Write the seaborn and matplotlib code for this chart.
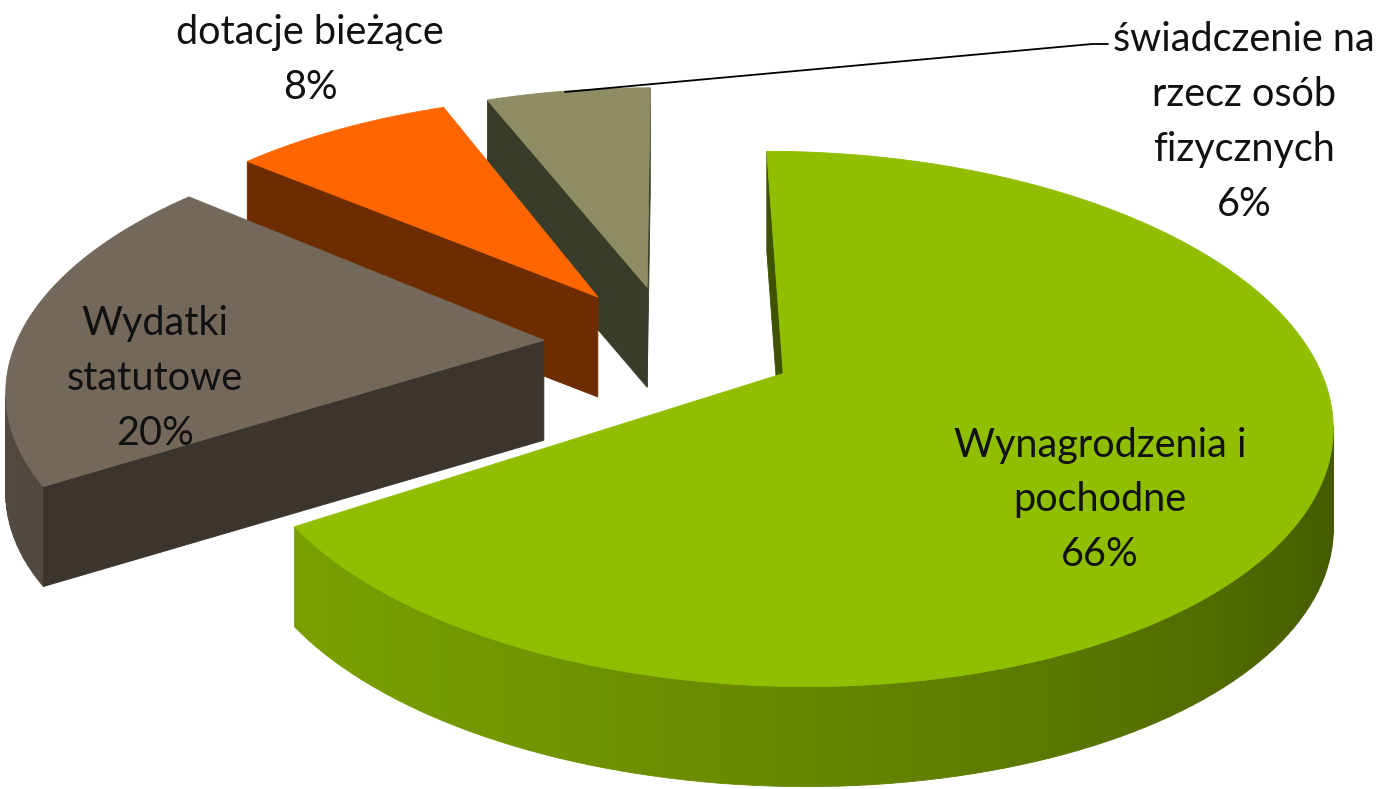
import numpy as np
import seaborn as sns
import matplotlib.pyplot as plt
from matplotlib.patches import Polygon
from matplotlib.colors import to_rgb

labels = ['Wynagrodzenia i\npochodne', 'Wydatki\nstatutowe', 'dotacje bieżące', 'świadczenie na\nrzecz osób\nfizycznych']
values = [66, 20, 8, 6]
top_colors = ['#8fbf00', '#73685a', '#ff6600', '#8e8c62']
# side shading: colour facing the light / colour facing away
side_light = ['#7aa000', '#514840', '#6e2d00', '#3a3c2a']
side_dark = ['#3e5200', '#3c352d', '#6e2d00', '#3a3c2a']
explode = [0.24, 0.24, 0.24, 0.24]
draw_order = [3, 2, 1, 0]   # back to front

sns.set_theme(style='white')
plt.rcParams['font.family'] = ['Lato', 'DejaVu Sans']

W, H = 1385, 789
fig = plt.figure(figsize=(W / 100, H / 100), dpi=100)
ax = fig.add_axes([0, 0, 1, 1])

# let pie work out the slice geometry on the ground plane
wedges, _ = ax.pie(values, explode=explode, startangle=90, counterclock=False)
geo = [(np.array(w.center), w.r, w.theta1, w.theta2) for w in wedges]
for w in wedges:
    w.remove()

# simple pinhole view of the tilted ground plane (pixels)
K = 6.0
SX, SY = 528, 250
CX, CY = 670, 344
depth = 100


def project(X, Y):
    s = K / (K + Y)
    return CX + SX * X * s, CY - SY * Y * s


def visible(p, normal_deg):
    n = np.array([np.cos(np.radians(normal_deg)), np.sin(np.radians(normal_deg))])
    return np.dot(n, np.array([0, -K]) - p) > 0


def shade(i, normal_deg):
    t = 0.5 + 0.5 * np.cos(np.radians(normal_deg - 200))
    a, b = np.array(to_rgb(side_dark[i])), np.array(to_rgb(side_light[i]))
    return tuple(a + t * (b - a))


def add_face(pts, color, z):
    ax.add_patch(Polygon(pts, closed=True, facecolor=color, edgecolor=color,
                         lw=0.6, zorder=z))


for rank, i in enumerate(draw_order):
    c, r, t1, t2 = geo[i]
    ang = np.linspace(t1, t2, max(int((t2 - t1) / 1.5), 4))
    gx = c[0] + r * np.cos(np.radians(ang))
    gy = c[1] + r * np.sin(np.radians(ang))
    u, v = project(gx, gy)
    cu, cv = project(*c)
    z = rank * 10

    # outer curved side
    for k in range(len(ang) - 1):
        mid = 0.5 * (ang[k] + ang[k + 1])
        pm = np.array([0.5 * (gx[k] + gx[k + 1]), 0.5 * (gy[k] + gy[k + 1])])
        if visible(pm, mid):
            add_face([(u[k], v[k]), (u[k + 1], v[k + 1]),
                      (u[k + 1], v[k + 1] + depth), (u[k], v[k] + depth)],
                     shade(i, mid), z)
    # flat radial sides
    for idx, normal in ((-1, t2 + 90), (0, t1 - 90)):
        pm = 0.5 * (c + np.array([gx[idx], gy[idx]]))
        if visible(pm, normal):
            add_face([(cu, cv), (u[idx], v[idx]), (u[idx], v[idx] + depth),
                      (cu, cv + depth)], side_dark[i], z + 1)
    # top
    add_face([(cu, cv)] + list(zip(u, v)), top_colors[i], z + 2)

ax.set_aspect('auto')
ax.set_xlim(0, W)
ax.set_ylim(H, 0)
ax.axis('off')

pcts = [f'{v}%' for v in values]
text_pos = [(1100, 500), (155, 378), (310, 60), (1244, 122)]
for i, (lab, p) in enumerate(zip(labels, pcts)):
    ax.text(*text_pos[i], f'{lab}\n{p}', ha='center', va='center',
            fontsize=28.5, color='#111111', linespacing=1.6, zorder=100)

# leader line for the smallest slice
ax.plot([565, 1092, 1108], [92, 44, 44], color='black', lw=1.3, zorder=100)

fig.savefig('out.png', dpi=100)
